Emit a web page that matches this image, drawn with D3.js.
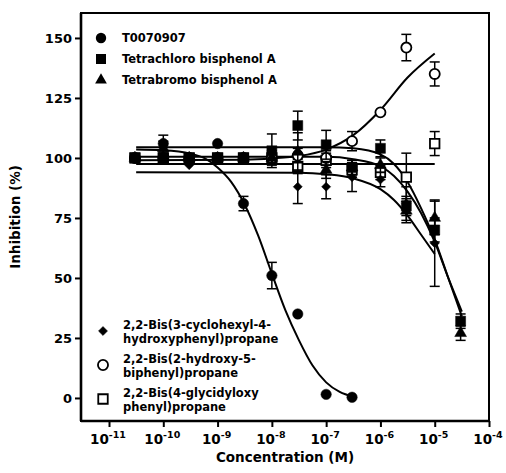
<!DOCTYPE html>
<html><head><meta charset="utf-8">
<script src="https://cdn.jsdelivr.net/npm/d3@7"></script>
<style>
html,body{margin:0;padding:0;background:#fff;}
text{font-family:"DejaVu Sans",Verdana,sans-serif;font-weight:bold;fill:#000;}
</style></head>
<body><svg id="c" width="506" height="473"></svg>
<script>
// ---- data ----
const concentrations = [3e-11, 1e-10, 3e-10, 1e-9, 3e-9, 1e-8, 3e-8, 1e-7, 3e-7, 1e-6, 3e-6, 1e-5, 3e-5];
const yTicks = [0, 25, 50, 75, 100, 125, 150];
const xTickExps = [-11, -10, -9, -8, -7, -6, -5, -4];

const t0070907 = [100, 106, 99, 106, 81, 51, 35, 1.5, 0.3];
const t0070907Err = [1.5, 3.5, 1, 1.5, 3, 5.5, 0, 0, 0];
const tetrachloro = [100, 100, 100, 100, 100, 103, 113.5, 105.5, 96, 104, 80, 70, 32];
const tetrachloroErr = [2, 2, 1, 1, 1.5, 7, 6, 6, 3, 3.5, 4, 5, 3];
const tetrabromo = [100, 104, 100, 100, 100, 100, 102.5, 95, 96, 97, 78, 75, 27];
const tetrabromoErr = [2, 3, 1, 1, 1, 3, 8, 3.5, 3, 3, 5, 7, 3];
const cyclohexyl = [100, 100, 97, 100, 100, 100, 88, 88, 92, 91, 81, 64.5];
const cyclohexylErr = [1, 1, 1, 1, 1, 1, 7, 5, 6, 3, 7, 18];
const biphenyl = [100, 100, 100, 100, 100, 100, 101, 100, 107, 119, 146, 135];
const biphenylErr = [1, 1, 1, 1, 1, 1, 3, 3, 4, 2, 5.5, 5];
const glycidyl = [100, 100, 100, 100, 100, 100, 96.5, 99, 95, 94, 92, 106];
const glycidylErr = [1, 1, 1, 1, 1, 1, 3, 3, 3, 3, 10, 5];

// fitted curves: [log10 concentration, inhibition]
const fitT0070907 = [[-10.5,103.5],[-10,103.2],[-9.5,101.8],[-9.25,100],[-9,96],[-8.75,90],[-8.5,80.5],[-8.25,67.5],[-8,51.8],[-7.75,36.5],[-7.5,24],[-7.25,13.5],[-7,6.5],[-6.75,2.5],[-6.5,0.5]];
const fitTetrachloro = [[-10.5,104.5],[-7,104.5],[-6.5,104],[-6,101.5],[-5.75,97.5],[-5.5,90],[-5.25,79],[-5,66],[-4.75,50],[-4.5,34]];
const fitTetrabromo = [[-10.5,100.5],[-7,100.5],[-6.5,99.5],[-6,96.5],[-5.75,92.5],[-5.5,86],[-5.25,77],[-5,65],[-4.75,50],[-4.5,36]];
const fitCyclohexyl = [[-10.5,94],[-7.5,93.8],[-7,93.2],[-6.5,91.5],[-6,87],[-5.75,82.5],[-5.5,76],[-5.25,68],[-5,60]];
const fitBiphenyl = [[-10.5,99],[-8.5,99.3],[-8,99.8],[-7.5,100.8],[-7,103.5],[-6.5,109.5],[-6,120],[-5.5,133.5],[-5,143.5]];
const fitGlycidyl = [[-10.5,97.5],[-5,97.5]];

const legendTop = ["T0070907", "Tetrachloro bisphenol A", "Tetrabromo bisphenol A"];
const legendBottom = [["2,2-Bis(3-cyclohexyl-4-","hydroxyphenyl)propane"],["2,2-Bis(2-hydroxy-5-","biphenyl)propane"],["2,2-Bis(4-glycidyloxy","phenyl)propane"]];

// ---- chart ----
const svg = d3.select("#c");
const L = 81, R = 489, T = 13, B = 421;
const x = d3.scaleLog().domain([Math.pow(10, -11.516), 1e-4]).range([L, R]);
const y = d3.scaleLinear().domain([-9.6, 160.4]).range([B, T]);

const series = [
  {v: t0070907, e: t0070907Err, fit: fitT0070907, sym: d3.symbolCircle, size: 85, open: false, z: 4},
  {v: tetrachloro, e: tetrachloroErr, fit: fitTetrachloro, sym: d3.symbolSquare, size: 100, open: false, z: 5},
  {v: tetrabromo, e: tetrabromoErr, fit: fitTetrabromo, sym: d3.symbolTriangle, size: 60, open: false, z: 3},
  {v: cyclohexyl, e: cyclohexylErr, fit: fitCyclohexyl, sym: d3.symbolDiamond2, size: 52, open: false, z: 2},
  {v: biphenyl, e: biphenylErr, fit: fitBiphenyl, sym: d3.symbolCircle, size: 80, open: true, z: 1},
  {v: glycidyl, e: glycidylErr, fit: fitGlycidyl, sym: d3.symbolSquare, size: 90, open: true, z: 0}
];

// frame
svg.append("rect").attr("x", L).attr("y", T).attr("width", R - L).attr("height", B - T)
  .attr("fill", "none").attr("stroke", "#000").attr("stroke-width", 2);
svg.append("line").attr("x1", L).attr("x2", L).attr("y1", T).attr("y2", B).attr("stroke", "#000").attr("stroke-width", 2.6);
svg.append("line").attr("x1", L).attr("x2", R).attr("y1", B).attr("y2", B).attr("stroke", "#000").attr("stroke-width", 2.6);

// y axis
const yAxis = d3.axisLeft(y).tickValues(yTicks).tickSize(6).tickPadding(3);
const gy = svg.append("g").attr("transform", `translate(${L},0)`).call(yAxis);
gy.select(".domain").remove();
gy.selectAll("line").attr("stroke-width", 2);
gy.selectAll("text").style("font-size", "13px").style("font-family", '"DejaVu Sans",sans-serif').style("font-weight", "bold");

// x axis
const xAxis = d3.axisBottom(x).tickValues(xTickExps.map(e => Math.pow(10, e))).tickSize(6).tickFormat("");
const gx = svg.append("g").attr("transform", `translate(0,${B})`).call(xAxis);
gx.select(".domain").remove();
gx.selectAll("line").attr("stroke-width", 2);
xTickExps.forEach(e => {
  const t = svg.append("text").attr("x", x(Math.pow(10, e)) - 1).attr("y", 444)
    .attr("text-anchor", "middle").style("font-size", "13.5px");
  t.append("tspan").text("10");
  t.append("tspan").attr("dy", -6).style("font-size", "9.5px").text(String(e));
});

// axis titles
svg.append("text").attr("x", 285).attr("y", 462).attr("text-anchor", "middle").style("font-size", "13.5px").text("Concentration (M)");
svg.append("text").attr("transform", `translate(20,217) rotate(-90)`).attr("text-anchor", "middle").style("font-size", "13.5px").text("Inhibition (%)");

// fitted curves
const line = d3.line().x(d => x(Math.pow(10, d[0]))).y(d => y(d[1])).curve(d3.curveMonotoneX);
series.forEach(s => {
  svg.append("path").datum(s.fit).attr("d", line).attr("fill", "none").attr("stroke", "#000").attr("stroke-width", 2);
});

// error bars + points (open markers underneath, filled on top)
series.slice().sort((a, b) => a.z - b.z).forEach(s => {
  const pts = s.v.map((v, i) => ({c: concentrations[i], v, e: s.e[i]}));
  const g = svg.append("g");
  pts.filter(p => p.e > 2).forEach(p => {
    const cx = x(p.c);
    g.append("line").attr("x1", cx).attr("x2", cx).attr("y1", y(p.v + p.e)).attr("y2", y(p.v - p.e)).attr("stroke", "#000").attr("stroke-width", 1.5);
    [p.v + p.e, p.v - p.e].forEach(vv => {
      g.append("line").attr("x1", cx - 5).attr("x2", cx + 5).attr("y1", y(vv)).attr("y2", y(vv)).attr("stroke", "#000").attr("stroke-width", 1.5);
    });
  });
  g.selectAll("path.m").data(pts).join("path").attr("class", "m")
    .attr("transform", p => `translate(${x(p.c)},${y(p.v)})`)
    .attr("d", d3.symbol().type(s.sym).size(s.size))
    .attr("fill", s.open ? "#fff" : "#000")
    .attr("stroke", "#000").attr("stroke-width", s.open ? 1.8 : 0.5);
});

// legend
const legTopY = [38, 59, 80];
legendTop.forEach((t, i) => {
  const s = series[i];
  svg.append("path").attr("transform", `translate(101,${legTopY[i]})`)
    .attr("d", d3.symbol().type(s.sym).size(s.size)).attr("fill", "#000");
  svg.append("text").attr("x", 122).attr("y", legTopY[i] + 4).style("font-size", "11.5px").text(t);
});
const legBotY = [331, 365, 399];
legendBottom.forEach((lines, i) => {
  const s = series[i + 3];
  svg.append("path").attr("transform", `translate(103,${legBotY[i]})`)
    .attr("d", d3.symbol().type(s.sym).size(s.size))
    .attr("fill", s.open ? "#fff" : "#000").attr("stroke", "#000").attr("stroke-width", s.open ? 1.8 : 0.5);
  svg.append("text").attr("x", 123).attr("y", legBotY[i] - 2).style("font-size", "11.5px").text(lines[0]);
  svg.append("text").attr("x", 123).attr("y", legBotY[i] + 12).style("font-size", "11.5px").text(lines[1]);
});
</script></body></html>
